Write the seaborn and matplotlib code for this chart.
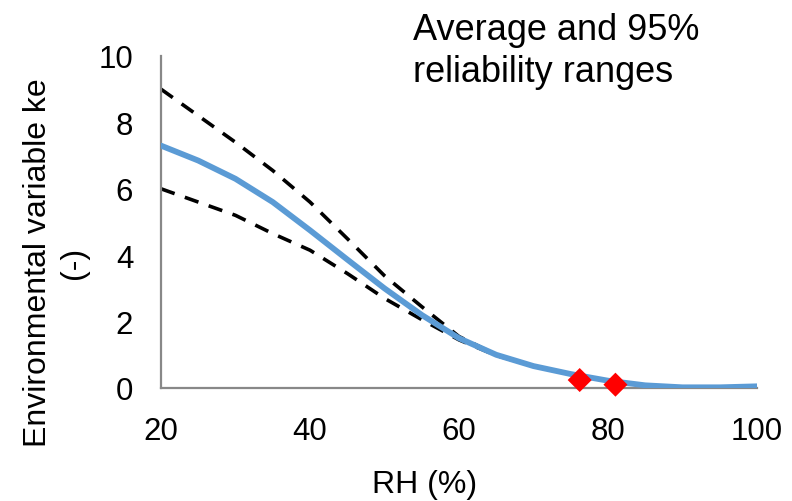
import matplotlib
matplotlib.use("Agg")
import matplotlib.pyplot as plt
import seaborn as sns
import pandas as pd

# Relative humidity (%) and environmental variable ke
rh = [20, 25, 30, 35, 40, 45, 50, 55, 60, 65, 70, 75, 80, 85, 90, 95, 100]
ke_mean = [7.3, 6.85, 6.3, 5.6, 4.75, 3.87, 3.0, 2.2, 1.5, 1.0, 0.66, 0.42, 0.22, 0.08, 0.02, 0.02, 0.05]
ke_upper = [9.0, 8.2, 7.4, 6.55, 5.6, 4.5, 3.38, 2.45, 1.55, 1.0, 0.66, 0.42, 0.22, 0.08, 0.02, 0.02, 0.05]
ke_lower = [6.0, 5.6, 5.2, 4.65, 4.15, 3.45, 2.7, 2.06, 1.45, 0.98, 0.66, 0.42, 0.22, 0.08, 0.02, 0.02, 0.05]

# Measured points
obs_rh = [76.2, 81.0]
obs_ke = [0.24, 0.10]

sns.set_theme(style="white")
plt.rcParams["font.family"] = ["Liberation Sans", "DejaVu Sans"]

df = pd.DataFrame({"RH": rh, "mean": ke_mean, "upper": ke_upper, "lower": ke_lower})
obs = pd.DataFrame({"RH": obs_rh, "ke": obs_ke})

fig = plt.figure(figsize=(7.92, 5.02), dpi=100)
ax = fig.add_axes([0.2033, 0.2251, 0.7525, 0.6614])

for col in ["upper", "lower"]:
    sns.lineplot(data=df, x="RH", y=col, ax=ax, color="black", lw=2.6,
                 dashes=False, estimator=None)
for line in ax.lines:
    line.set_dashes((4, 3))
sns.lineplot(data=df, x="RH", y="mean", ax=ax, color="#5B9BD5", lw=4.2,
             estimator=None, zorder=3)
sns.scatterplot(data=obs, x="RH", y="ke", ax=ax, marker="D", color="red",
                s=150, edgecolor="none", zorder=4, clip_on=False)

ax.set_xlim(20, 100)
ax.set_ylim(0, 10)
ax.set_xticks([20, 40, 60, 80, 100])
ax.set_yticks([0, 2, 4, 6, 8, 10])
ax.set_xlabel("RH (%)", fontsize=23, color="black")
ax.set_ylabel("Environmental variable ke\n(-)", fontsize=23,
              color="black", linespacing=1.3)
ax.xaxis.set_label_coords(0.443, -0.243)
ax.yaxis.set_label_coords(-0.12, 0.38)

for side in ["top", "right"]:
    ax.spines[side].set_visible(False)
for side in ["left", "bottom"]:
    ax.spines[side].set_color("#888888")
    ax.spines[side].set_linewidth(1.6)
ax.tick_params(axis="both", direction="out", length=6, width=1.6,
               color="#888888", labelsize=22.5, labelcolor="black", pad=14)

fig.text(0.521, 0.975, "Average and 95%\nreliability ranges", fontsize=26,
         ha="left", va="top", color="black", linespacing=1.27)

fig.savefig("out.png", dpi=100)
